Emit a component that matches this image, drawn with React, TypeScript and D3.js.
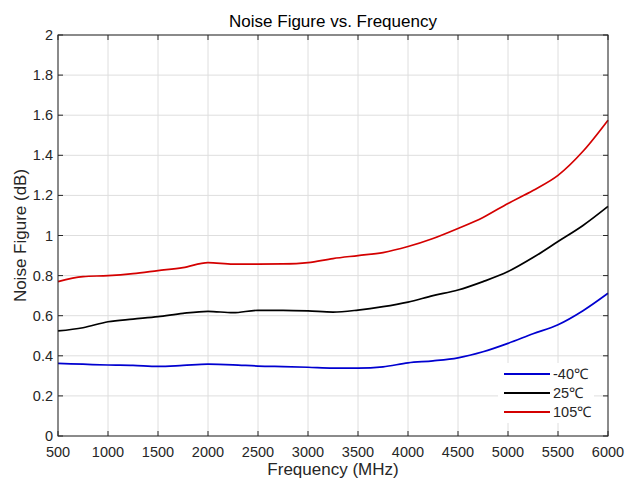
import React, { useEffect, useRef } from "react";
import * as d3 from "d3";

const freqs = [
  500, 750, 1000, 1250, 1500, 1750, 2000, 2250, 2500, 2750, 3000, 3250, 3500,
  3750, 4000, 4250, 4500, 4750, 5000, 5250, 5500, 5750, 6000,
];
const nfMinus40 = [
  0.362, 0.358, 0.354, 0.352, 0.347, 0.352, 0.358, 0.355, 0.349, 0.346, 0.343,
  0.339, 0.339, 0.345, 0.365, 0.375, 0.39, 0.42, 0.462, 0.51, 0.555, 0.625, 0.712,
];
const nf25 = [
  0.524, 0.54, 0.57, 0.583, 0.595, 0.612, 0.622, 0.615, 0.627, 0.627, 0.624,
  0.618, 0.628, 0.645, 0.668, 0.7, 0.728, 0.77, 0.82, 0.89, 0.97, 1.05, 1.145,
];
const nf105 = [
  0.77, 0.795, 0.8, 0.81, 0.825, 0.84, 0.865, 0.857, 0.857, 0.858, 0.865, 0.885,
  0.9, 0.915, 0.945, 0.985, 1.035, 1.09, 1.16, 1.225, 1.3, 1.42, 1.575,
];
const seriesNames = ["-40℃", "25℃", "105℃"];
const seriesColors = ["#0000d0", "#000000", "#d40000"];
const xTicks = [500, 1000, 1500, 2000, 2500, 3000, 3500, 4000, 4500, 5000, 5500, 6000];
const yTicks = [0, 0.2, 0.4, 0.6, 0.8, 1, 1.2, 1.4, 1.6, 1.8, 2];

const App = () => {
  const svgRef = useRef<SVGSVGElement>(null);

  useEffect(() => {
    const width = 625;
    const height = 486;
    const m = { left: 58, right: 17, top: 35, bottom: 50 };
    const font = "Liberation Sans, Arial, sans-serif";
    const axisColor = "#262626";

    const svg = d3.select(svgRef.current);
    svg.selectAll("*").remove();
    svg.attr("width", width).attr("height", height).style("display", "block");

    svg.append("rect").attr("width", width).attr("height", height).attr("fill", "#fff");

    const x = d3.scaleLinear().domain([500, 6000]).range([m.left, width - m.right]);
    const y = d3.scaleLinear().domain([0, 2]).range([height - m.bottom, m.top]);

    // grid
    const grid = svg.append("g");
    xTicks.forEach((t) => {
      grid.append("line")
        .attr("x1", x(t)).attr("x2", x(t))
        .attr("y1", y(0)).attr("y2", y(2))
        .attr("stroke", "#dedede").attr("stroke-width", 1);
    });
    yTicks.forEach((t) => {
      grid.append("line")
        .attr("x1", x(500)).attr("x2", x(6000))
        .attr("y1", y(t)).attr("y2", y(t))
        .attr("stroke", "#dedede").attr("stroke-width", 1);
    });

    // curves
    const all = [nfMinus40, nf25, nf105];
    const line = d3.line<number>()
      .x((_, i) => x(freqs[i]))
      .y((d) => y(d))
      .curve(d3.curveMonotoneX);
    all.forEach((vals, k) => {
      svg.append("path")
        .datum(vals)
        .attr("d", line)
        .attr("fill", "none")
        .attr("stroke", seriesColors[k])
        .attr("stroke-width", 1.7);
    });

    // box + inward ticks
    const tickLen = 5;
    const axes = svg.append("g");
    axes.append("rect")
      .attr("x", x(500)).attr("y", y(2))
      .attr("width", x(6000) - x(500)).attr("height", y(0) - y(2))
      .attr("fill", "none").attr("stroke", axisColor).attr("stroke-width", 1);
    xTicks.forEach((t) => {
      axes.append("line").attr("x1", x(t)).attr("x2", x(t))
        .attr("y1", y(0)).attr("y2", y(0) - tickLen).attr("stroke", axisColor);
      axes.append("line").attr("x1", x(t)).attr("x2", x(t))
        .attr("y1", y(2)).attr("y2", y(2) + tickLen).attr("stroke", axisColor);
      axes.append("text")
        .attr("x", x(t)).attr("y", y(0) + 21)
        .attr("text-anchor", "middle")
        .attr("font-family", font).attr("font-size", 14.5)
        .attr("fill", axisColor)
        .text(t);
    });
    yTicks.forEach((t) => {
      axes.append("line").attr("x1", x(500)).attr("x2", x(500) + tickLen)
        .attr("y1", y(t)).attr("y2", y(t)).attr("stroke", axisColor);
      axes.append("line").attr("x1", x(6000)).attr("x2", x(6000) - tickLen)
        .attr("y1", y(t)).attr("y2", y(t)).attr("stroke", axisColor);
      axes.append("text")
        .attr("x", x(500) - 5).attr("y", y(t) + 5)
        .attr("text-anchor", "end")
        .attr("font-family", font).attr("font-size", 14.5)
        .attr("fill", axisColor)
        .text(d3.format("~g")(t));
    });

    // titles
    svg.append("text")
      .attr("x", (x(500) + x(6000)) / 2).attr("y", 27)
      .attr("text-anchor", "middle")
      .attr("font-family", font).attr("font-size", 17)
      .attr("fill", "#000")
      .text("Noise Figure vs. Frequency");
    svg.append("text")
      .attr("x", (x(500) + x(6000)) / 2).attr("y", 475)
      .attr("text-anchor", "middle")
      .attr("font-family", font).attr("font-size", 17)
      .attr("fill", axisColor)
      .text("Frequency (MHz)");
    svg.append("text")
      .attr("transform", `translate(26,${(y(0) + y(2)) / 2}) rotate(-90)`)
      .attr("text-anchor", "middle")
      .attr("font-family", font).attr("font-size", 17)
      .attr("fill", axisColor)
      .text("Noise Figure (dB)");

    // legend
    const lg = svg.append("g");
    lg.append("rect")
      .attr("x", 498).attr("y", 363).attr("width", 96).attr("height", 60)
      .attr("fill", "#fff");
    seriesNames.forEach((name, k) => {
      const ly = 374 + k * 19;
      lg.append("line")
        .attr("x1", 504).attr("x2", 550)
        .attr("y1", ly).attr("y2", ly)
        .attr("stroke", seriesColors[k]).attr("stroke-width", 2);
      lg.append("text")
        .attr("x", 553).attr("y", ly + 5)
        .attr("font-family", font).attr("font-size", 14.5)
        .attr("fill", axisColor)
        .text(name);
    });
  }, []);

  return <svg ref={svgRef} style={{ position: "absolute", left: 0, top: 0 }}></svg>;
};

export default App;
